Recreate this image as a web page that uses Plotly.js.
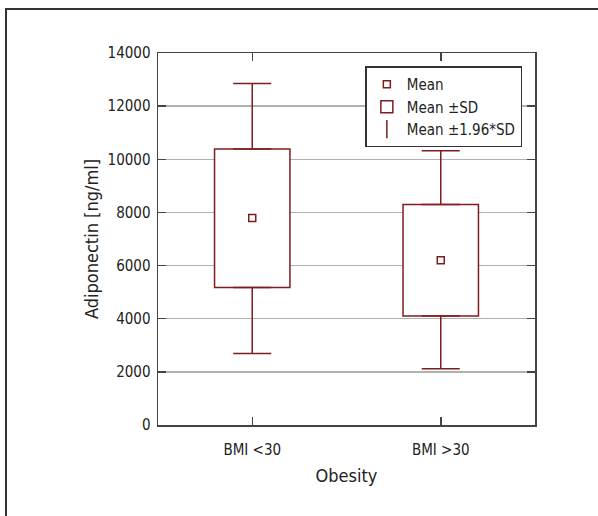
<!DOCTYPE html>
<html>
<head>
<meta charset="utf-8">
<script src="https://cdn.plot.ly/plotly-3.0.1.min.js"></script>
<style>
  html, body { margin: 0; padding: 0; background: #fff; }
  #frame { position: absolute; left: 5px; top: 8px; width: 600px; height: 520px;
           border-top: 2px solid #333; border-left: 2px solid #333; }
  #chart { position: absolute; left: 0; top: 0; width: 598px; height: 516px; }
</style>
</head>
<body>
<div id="frame"></div>
<div id="chart"></div>
<script>
// Data
const categories = ['BMI <30', 'BMI >30'];
const meanVals   = [7790, 6200];
const sdLow      = [5175, 4105];
const sdHigh     = [10390, 8300];
const ciLow      = [2690, 2120];
const ciHigh     = [12850, 10320];
const yTicks     = [0, 2000, 4000, 6000, 8000, 10000, 12000, 14000];

const red = '#7f1d1d';
const fontFam = '"DejaVu Sans Condensed", "DejaVu Sans", sans-serif';

const boxTrace = {
  type: 'bar', name: 'Mean \u00B1SD', x: categories,
  base: sdLow, y: sdHigh.map((v, i) => v - sdLow[i]),
  width: 0.4,
  marker: { color: '#ffffff', line: { color: red, width: 1.5 } },
  hoverinfo: 'skip', legendrank: 2
};
const upperWhisker = {
  type: 'scatter', mode: 'markers', x: categories, y: sdHigh,
  marker: { size: 1, opacity: 0 }, showlegend: false, hoverinfo: 'skip',
  error_y: { type: 'data', symmetric: false,
    array: ciHigh.map((v, i) => v - sdHigh[i]), arrayminus: sdHigh.map(() => 0),
    color: red, thickness: 1.5, width: 19 }
};
const lowerWhisker = {
  type: 'scatter', mode: 'markers', x: categories, y: sdLow,
  marker: { size: 1, opacity: 0 }, showlegend: false, hoverinfo: 'skip',
  error_y: { type: 'data', symmetric: false,
    array: sdLow.map(() => 0), arrayminus: sdLow.map((v, i) => v - ciLow[i]),
    color: red, thickness: 1.5, width: 19 }
};
const meanTrace = {
  type: 'scatter', mode: 'markers', name: 'Mean', x: categories, y: meanVals,
  marker: { symbol: 'square-open', size: 7, color: red, line: { width: 1.5, color: red } },
  legendrank: 1
};
const ciLegend = {
  type: 'scatter', mode: 'markers', name: 'Mean \u00B11.96*SD', x: [null], y: [null],
  marker: { symbol: 'line-ns-open', size: 13, color: red, line: { width: 1.5, color: red } },
  legendrank: 3
};

const layout = {
  width: 598, height: 516,
  margin: { l: 158, r: 63, t: 53, b: 91 },
  paper_bgcolor: 'rgba(0,0,0,0)', plot_bgcolor: '#fff',
  font: { family: fontFam, size: 15, color: '#222' },
  showlegend: true, barmode: 'overlay',
  xaxis: {
    type: 'category', range: [-0.5, 1.5],
    showline: true, linecolor: '#444', linewidth: 1.5, mirror: 'ticks',
    ticks: 'inside', ticklen: 8, tickcolor: '#444', tickwidth: 1.5,
    showgrid: false, zeroline: false, ticklabelstandoff: 10,
    tickfont: { size: 15 },
    title: { text: 'Obesity', standoff: 12 }
  },
  yaxis: {
    range: [0, 14000], tickvals: yTicks, ticktext: yTicks.map(String),
    showline: true, linecolor: '#444', linewidth: 1.5, mirror: 'ticks',
    ticks: 'inside', ticklen: 8, tickcolor: '#444', tickwidth: 1.5,
    showgrid: true, gridcolor: '#b0b0b0', gridwidth: 1.5, zeroline: false,
    ticklabelstandoff: 3, tickfont: { size: 15 },
    title: { text: 'Adiponectin [ng/ml]', standoff: 4 }
  },
  legend: {
    x: 0.55, y: 0.964, xanchor: 'left', yanchor: 'top',
    bgcolor: '#fff', bordercolor: '#333', borderwidth: 1.5,
    font: { family: fontFam, size: 15, color: '#222' },
    itemwidth: 30, tracegroupgap: 0
  }
};

Plotly.newPlot('chart', [boxTrace, upperWhisker, lowerWhisker, meanTrace, ciLegend], layout,
  { displayModeBar: false, staticPlot: true });
</script>
</body>
</html>
